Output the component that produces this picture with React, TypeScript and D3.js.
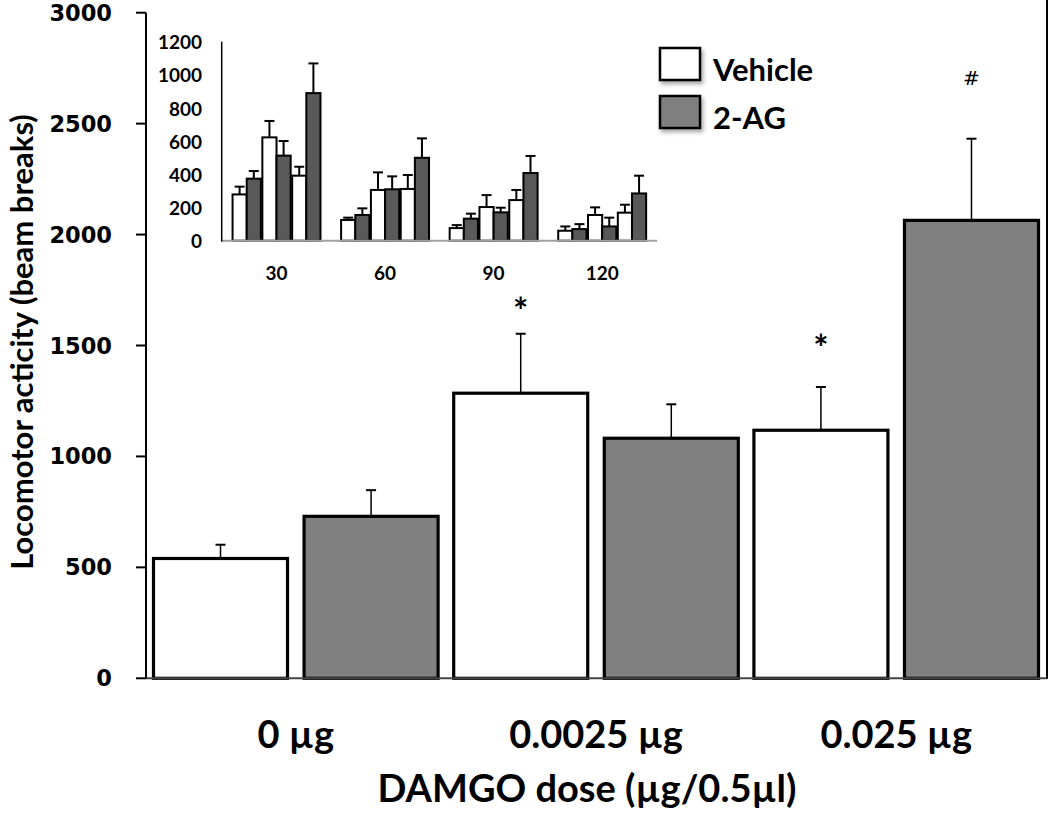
import React from "react";
import * as d3 from "d3";

// ---------- Main chart data ----------
const doses = ["0 µg", "0.0025 µg", "0.025 µg"];
const seriesNames = ["Vehicle", "2-AG"];
const vehicleMeans = [540, 1285, 1118];
const vehicleSems = [62, 268, 195];
const agMeans = [730, 1082, 2064];
const agSems = [118, 153, 368];
const yTicks = [0, 500, 1000, 1500, 2000, 2500, 3000];
// significance marks: dose index, series, y value at which the symbol sits
const marks = [
  { dose: 1, series: "Vehicle", symbol: "*", at: 1693 },
  { dose: 2, series: "Vehicle", symbol: "*", at: 1525 },
  { dose: 2, series: "2-AG", symbol: "#", at: 2705 },
];

// ---------- Inset data (time course, min) ----------
const insetTimes = ["30", "60", "90", "120"];
const insetTicks = [0, 200, 400, 600, 800, 1000, 1200];
// per dose: vehicle / 2-AG means and sems over time
const insetVeh0 = [279, 125, 76, 60];
const insetVeh0Sem = [47, 14, 18, 26];
const insetAg0 = [374, 155, 133, 70];
const insetAg0Sem = [46, 40, 30, 30];
const insetVeh1 = [623, 306, 203, 155];
const insetVeh1Sem = [99, 106, 72, 46];
const insetAg1 = [513, 310, 171, 86];
const insetAg1Sem = [88, 78, 28, 53];
const insetVeh2 = [392, 312, 245, 169];
const insetVeh2Sem = [54, 84, 61, 48];
const insetAg2 = [890, 500, 408, 285];
const insetAg2Sem = [179, 117, 103, 107];

const FONT = "Lato, 'Open Sans', sans-serif";

export default function App() {
  // main scales
  const y = d3.scaleLinear().domain([0, 3000]).range([678.3, 12.7]);
  const x0 = d3.scaleBand<string>().domain(doses).range([146, 1046]).paddingInner(0.052).paddingOuter(0.025);
  const x1 = d3.scaleBand<string>().domain(seriesNames).range([0, x0.bandwidth()]).paddingInner(0.11);

  const mainBars = doses.flatMap((d, i) => [
    { dose: d, series: "Vehicle", v: vehicleMeans[i], e: vehicleSems[i] },
    { dose: d, series: "2-AG", v: agMeans[i], e: agSems[i] },
  ]);

  // inset scales
  const iy = d3.scaleLinear().domain([0, 1200]).range([240.7, 41.7]);
  const ix0 = d3.scaleBand<string>().domain(insetTimes).range([221.7, 657]).paddingInner(0.19).paddingOuter(0.1);
  const doseIdx = ["d0", "d1", "d2"];
  const ixPair = d3.scaleBand<string>().domain(doseIdx).range([0, ix0.bandwidth()]).paddingInner(0.05);
  const ixS = d3.scaleBand<string>().domain(seriesNames).range([0, ixPair.bandwidth()]);

  const insetSets = [
    { dose: "d0", veh: insetVeh0, vehE: insetVeh0Sem, ag: insetAg0, agE: insetAg0Sem },
    { dose: "d1", veh: insetVeh1, vehE: insetVeh1Sem, ag: insetAg1, agE: insetAg1Sem },
    { dose: "d2", veh: insetVeh2, vehE: insetVeh2Sem, ag: insetAg2, agE: insetAg2Sem },
  ];
  const insetBars = insetTimes.flatMap((t, ti) =>
    insetSets.flatMap((s) => [
      { t, dose: s.dose, series: "Vehicle", v: s.veh[ti], e: s.vehE[ti] },
      { t, dose: s.dose, series: "2-AG", v: s.ag[ti], e: s.agE[ti] },
    ])
  );

  return (
    <svg
      width={1050}
      height={816}
      style={{ position: "absolute", left: 0, top: 0, background: "#fff" }}
      fontFamily={FONT}
    >
      <defs>
        <filter id="shadow" x="-30%" y="-30%" width="160%" height="160%">
          <feDropShadow dx="2" dy="3" stdDeviation="2" floodColor="#000" floodOpacity="0.35" />
        </filter>
      </defs>
      <rect width={1050} height={816} fill="#fff" />

      {/* right frame line */}
      <line x1={1047} x2={1047} y1={0} y2={679} stroke="#000" strokeWidth={2} />

      {/* main bars */}
      {mainBars.map((b, i) => {
        const bx = (x0(b.dose) as number) + (x1(b.series) as number);
        const w = x1.bandwidth();
        const cx = bx + w / 2;
        return (
          <g key={"mb" + i}>
            <line x1={cx} x2={cx} y1={y(b.v)} y2={y(b.v + b.e)} stroke="#000" strokeWidth={1.5} />
            <line x1={cx - 5} x2={cx + 5} y1={y(b.v + b.e)} y2={y(b.v + b.e)} stroke="#000" strokeWidth={2} />
            <rect
              x={bx}
              y={y(b.v)}
              width={w}
              height={y(0) - y(b.v)}
              fill={b.series === "Vehicle" ? "#fff" : "#808080"}
              stroke="#000"
              strokeWidth={3.2}
            />
          </g>
        );
      })}

      {/* x axis baseline */}
      <line x1={146} x2={1047} y1={y(0)} y2={y(0)} stroke="#444" strokeWidth={2} />

      {/* y axis */}
      <line x1={146} x2={146} y1={y(3000)} y2={y(0)} stroke="#000" strokeWidth={2} />
      {yTicks.map((t) => (
        <g key={"yt" + t}>
          <line x1={136} x2={146} y1={y(t)} y2={y(t)} stroke="#000" strokeWidth={2} />
          <text
            x={112}
            y={y(t)}
            textAnchor="end"
            dominantBaseline="central"
            fontFamily="'DejaVu Sans', sans-serif"
            fontWeight="bold"
            fontSize={22.5}
          >
            {t}
          </text>
        </g>
      ))}

      {/* category labels */}
      {doses.map((d) => (
        <text
          key={"cl" + d}
          x={(x0(d) as number) + x0.bandwidth() / 2}
          y={748}
          textAnchor="middle"
          fontWeight="bold"
          fontSize={38}
        >
          {d}
        </text>
      ))}

      {/* axis titles */}
      <text x={587} y={802} textAnchor="middle" fontWeight="bold" fontSize={38}>
        DAMGO dose (µg/0.5µl)
      </text>
      <text
        transform={`translate(33, ${342}) rotate(-90)`}
        textAnchor="middle"
        fontWeight="bold"
        fontSize={31}
      >
        Locomotor acticity (beam breaks)
      </text>

      {/* significance marks */}
      {marks.map((m, i) => {
        const cx = (x0(doses[m.dose]) as number) + (x1(m.series) as number) + x1.bandwidth() / 2;
        const isHash = m.symbol === "#";
        return (
          <text
            key={"mk" + i}
            x={cx}
            y={y(m.at)}
            textAnchor="middle"
            dominantBaseline="central"
            fontFamily={isHash ? "'DejaVu Sans', sans-serif" : FONT}
            fontWeight={isHash ? "normal" : "bold"}
            fontSize={isHash ? 20 : 36}
            dy={isHash ? 0 : 7}
          >
            {m.symbol}
          </text>
        );
      })}

      {/* legend */}
      {seriesNames.map((s, i) => (
        <g key={"lg" + s} transform={`translate(660, ${48 + i * 48})`}>
          <rect
            x={0}
            y={0}
            width={40}
            height={32}
            fill={s === "Vehicle" ? "#fff" : "#808080"}
            stroke="#000"
            strokeWidth={2.5}
            filter="url(#shadow)"
          />
          <text x={53} y={33} fontWeight="bold" fontSize={31}>
            {s}
          </text>
        </g>
      ))}

      {/* inset */}
      <g>
        {insetBars.map((b, i) => {
          const bx = (ix0(b.t) as number) + (ixPair(b.dose) as number) + (ixS(b.series) as number);
          const w = ixS.bandwidth();
          const cx = bx + w / 2;
          return (
            <g key={"ib" + i}>
              <line x1={cx} x2={cx} y1={iy(b.v)} y2={iy(b.v + b.e)} stroke="#000" strokeWidth={2} />
              <line x1={cx - 5} x2={cx + 5} y1={iy(b.v + b.e)} y2={iy(b.v + b.e)} stroke="#000" strokeWidth={2} />
              <rect
                x={bx}
                y={iy(b.v)}
                width={w}
                height={iy(0) - iy(b.v)}
                fill={b.series === "Vehicle" ? "#fff" : "#595959"}
                stroke="#000"
                strokeWidth={2}
              />
            </g>
          );
        })}
        <line x1={221.7} x2={657} y1={iy(0)} y2={iy(0)} stroke="#a0a0a0" strokeWidth={2} />
        <line x1={221.7} x2={221.7} y1={iy(1200)} y2={iy(0) + 1} stroke="#000" strokeWidth={1.5} />
        {insetTicks.map((t) => (
          <text
            key={"it" + t}
            x={202}
            y={iy(t)}
            textAnchor="end"
            dominantBaseline="central"
            fontWeight="bold"
            fontSize={19}
          >
            {t}
          </text>
        ))}
        {insetTimes.map((t) => (
          <text
            key={"ix" + t}
            x={(ix0(t) as number) + ix0.bandwidth() / 2}
            y={272}
            textAnchor="middle"
            dominantBaseline="central"
            fontWeight="bold"
            fontSize={19}
          >
            {t}
          </text>
        ))}
      </g>
    </svg>
  );
}
